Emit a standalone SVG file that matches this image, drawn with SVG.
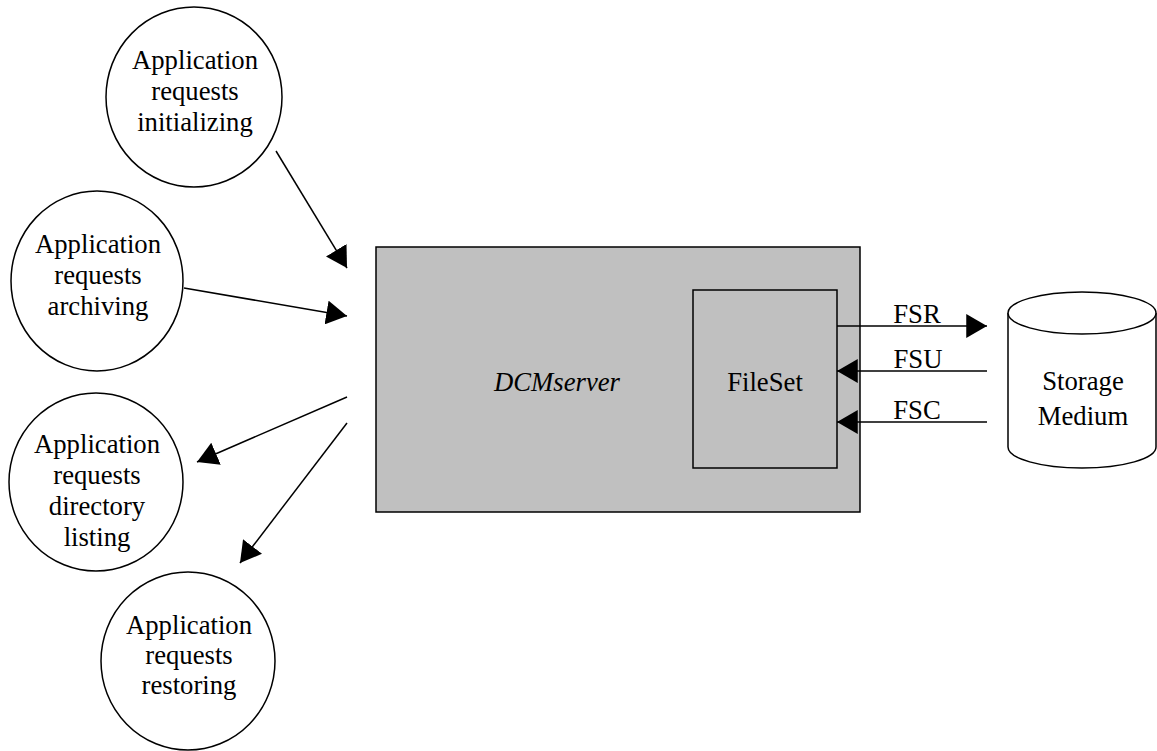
<svg xmlns="http://www.w3.org/2000/svg" width="1157" height="751" viewBox="0 0 1157 751">
<defs>
<style>
.n{fill:#fff;stroke:#000;stroke-width:1.5}
.t{font-family:"Liberation Serif","Times New Roman",serif;font-size:26.7px;fill:#000;text-anchor:middle}
.c{stroke:#000;stroke-width:1.5;fill:none;marker-end:url(#ah)}
</style>
<marker id="ah" markerUnits="userSpaceOnUse" markerWidth="22" markerHeight="24" refX="19" refY="11" orient="auto" viewBox="0 0 20 22">
<path d="M0,0 L19,11 L0,22 z" fill="#000"/>
</marker>
</defs>
<rect width="1157" height="751" fill="#fff"/>
<g id="dcmserver">
<rect x="376" y="247" width="484" height="265" fill="#c0c0c0" stroke="#000" stroke-width="1.5"/>
<text class="t" x="557" y="391" font-style="italic">DCMserver</text>
</g>
<g id="fileset">
<rect x="693" y="290" width="144" height="178" fill="#c0c0c0" stroke="#000" stroke-width="1.5"/>
<text class="t" x="765" y="391">FileSet</text>
</g>
<g id="storage">
<path class="n" d="M1008,313 L1008,447 A74,21 0 0 0 1156,447 L1156,313"/>
<ellipse class="n" cx="1082" cy="313" rx="74" ry="21"/>
<text class="t" x="1083" y="390">Storage</text>
<text class="t" x="1083" y="425">Medium</text>
</g>
<g id="app-init">
<ellipse class="n" cx="194" cy="97" rx="88" ry="90"/>
<text class="t" x="195" y="69">Application</text>
<text class="t" x="195" y="100">requests</text>
<text class="t" x="195" y="131">initializing</text>
</g>
<g id="app-archive">
<ellipse class="n" cx="97" cy="281" rx="86" ry="90"/>
<text class="t" x="98" y="253">Application</text>
<text class="t" x="98" y="284">requests</text>
<text class="t" x="98" y="315">archiving</text>
</g>
<g id="app-dir">
<ellipse class="n" cx="96" cy="482" rx="87" ry="89"/>
<text class="t" x="97" y="453">Application</text>
<text class="t" x="97" y="484">requests</text>
<text class="t" x="97" y="515">directory</text>
<text class="t" x="97" y="546">listing</text>
</g>
<g id="app-restore">
<ellipse class="n" cx="188" cy="661" rx="87" ry="89"/>
<text class="t" x="189" y="634">Application</text>
<text class="t" x="189" y="664">requests</text>
<text class="t" x="189" y="694">restoring</text>
</g>
<g id="connectors">
<line class="c" x1="276" y1="151" x2="347" y2="268"/>
<line class="c" x1="184" y1="288" x2="347" y2="316"/>
<line class="c" x1="347" y1="397" x2="197" y2="462"/>
<line class="c" x1="347" y1="423" x2="240" y2="563"/>
<line class="c" x1="837" y1="326" x2="987" y2="326"/>
<line class="c" x1="987" y1="371" x2="837" y2="371"/>
<line class="c" x1="987" y1="422" x2="837" y2="422"/>
<text class="t" x="917" y="323">FSR</text>
<text class="t" x="918" y="368">FSU</text>
<text class="t" x="917" y="419">FSC</text>
</g>
</svg>
